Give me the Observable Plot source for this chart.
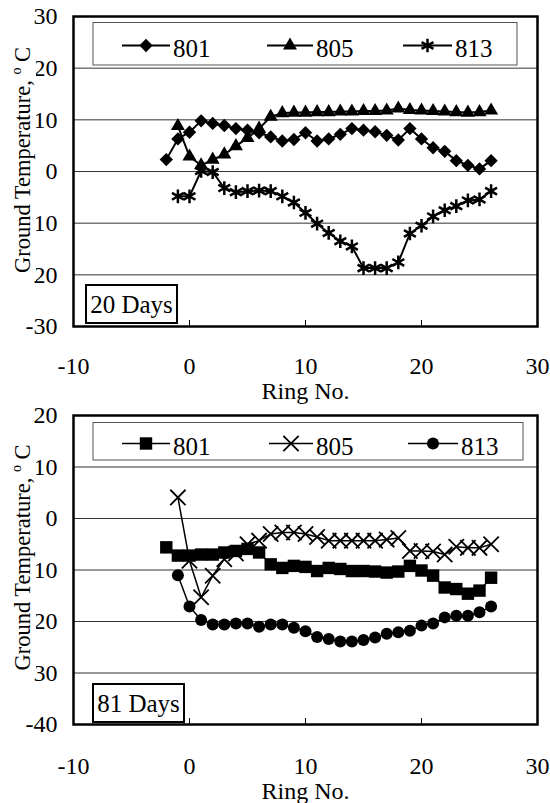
<!DOCTYPE html>
<html>
<head>
<meta charset="utf-8">
<script src="https://cdn.jsdelivr.net/npm/d3@7"></script>
<script src="https://cdn.jsdelivr.net/npm/@observablehq/plot@0.6"></script>
<style>
html, body { margin: 0; padding: 0; background: #fff; overflow: hidden; }
#chart svg { display: block; }
</style>
</head>
<body>
<div id="chart"></div>
<script>
// ---------- data ----------
const ring = [-2, -1, 0, 1, 2, 3, 4, 5, 6, 7, 8, 9, 10, 11, 12, 13, 14, 15, 16, 17, 18, 19, 20, 21, 22, 23, 24, 25, 26];
const seriesNames = ["801", "805", "813"];

// 20 days
const d20_801 = [2.3, 6.3, 7.6, 9.8, 9.3, 8.9, 8.3, 8.0, 7.5, 6.7, 5.9, 6.2, 7.5, 5.9, 6.3, 7.2, 8.3, 8.0, 7.7, 7.0, 6.1, 8.3, 6.3, 4.6, 3.9, 2.1, 1.2, 0.5, 2.1];
const d20_805 = [null, 8.8, 2.9, 1.2, 2.3, 3.3, 4.9, 6.5, 8.3, 10.6, 11.3, 11.4, 11.4, 11.5, 11.5, 11.6, 11.6, 11.7, 11.7, 11.8, 12.2, 11.9, 11.8, 11.7, 11.6, 11.5, 11.4, 11.5, 11.8];
const d20_813 = [null, -4.8, -4.8, 0.1, -0.1, -3.2, -4.0, -3.8, -3.7, -3.8, -4.8, -6.0, -8.0, -10.1, -11.9, -13.5, -14.5, -18.7, -18.7, -18.7, -17.6, -12.0, -10.5, -8.7, -7.5, -6.7, -5.6, -5.4, -3.8];

// 81 days
const d81_801 = [-5.6, -7.2, -7.2, -7.0, -7.0, -6.6, -6.3, -5.9, -6.6, -8.9, -9.6, -9.2, -9.4, -10.2, -9.6, -9.8, -10.2, -10.2, -10.3, -10.5, -10.3, -9.2, -10.1, -11.1, -13.4, -13.7, -14.6, -14.0, -11.5];
const d81_805 = [null, 4.1, -8.2, -15.3, -11.1, -7.9, -6.8, -5.0, -4.3, -3.0, -2.7, -2.7, -3.0, -3.6, -4.3, -4.3, -4.3, -4.3, -4.3, -4.1, -3.8, -6.3, -6.3, -6.4, -7.0, -5.5, -5.7, -5.7, -5.0];
const d81_813 = [null, -11.0, -17.1, -19.7, -20.6, -20.6, -20.4, -20.4, -21.0, -20.6, -20.6, -21.2, -21.9, -23.0, -23.4, -23.9, -23.9, -23.6, -23.1, -22.4, -22.1, -21.8, -20.8, -20.4, -19.2, -18.9, -18.9, -18.2, -17.1];

const xTicks = [-10, 0, 10, 20, 30];
const yTicksTop = [-30, -20, -10, 0, 10, 20, 30];
const yTicksBottom = [-40, -30, -20, -10, 0, 10, 20];
const xLabel = "Ring No.";
const yLabel = "Ground Temperature, ";
const yUnitSup = "o";
const yUnit = " C";
const dayLabels = ["20 Days", "81 Days"];

// ---------- drawing ----------
const FONT = "'Liberation Serif', 'Times New Roman', serif";
const symbolMap = {
  diamond2: d3.symbolDiamond2, triangle: d3.symbolTriangle, asterisk: d3.symbolAsterisk,
  square: d3.symbolSquare, times: d3.symbolTimes, circle: d3.symbolCircle
};
const container = document.getElementById("chart");

function makePanel(p) {
  const innerH = p.height - p.marginTop - p.marginBottom;
  const rows = vals => ring.map((x, i) => ({x, y: vals[i]})).filter(d => d.y !== null);
  const svg = Plot.plot({
    width: 550,
    height: p.height,
    marginLeft: 73, marginRight: 13, marginTop: p.marginTop, marginBottom: p.marginBottom,
    style: {fontFamily: FONT, fontSize: "24px", background: "white", overflow: "visible", color: "black"},
    x: {domain: [xTicks[0], xTicks[xTicks.length - 1]]},
    y: {domain: [p.yTicks[0], p.yTicks[p.yTicks.length - 1]]},
    marks: [
      Plot.gridY(p.yTicks, {stroke: "#333", strokeOpacity: 1, strokeWidth: 1}),
      Plot.ruleX(xTicks, {x: d => d, insetTop: innerH - 6, stroke: "black", strokeWidth: 1}),
      Plot.axisX(xTicks, {tickSize: 0, tickPadding: p.xPad, tickFormat: d => String(d), label: null, fontSize: 24}),
      Plot.axisY(p.yTicks, {tickSize: 0, tickPadding: 16, tickFormat: d => String(d), label: null, fontSize: 24}),
      ...p.series.map(s => Plot.line(rows(s.values), {x: "x", y: "y", stroke: "black", strokeWidth: p.lineWidth})),
      ...p.series.map(s => Plot.dot(rows(s.values), {
        x: "x", y: "y", symbol: s.symbol, r: s.r,
        fill: s.filled ? "black" : "none", stroke: s.filled ? "none" : "black", strokeWidth: s.sw || 1
      })),
      Plot.frame({stroke: "black", strokeWidth: 2.5}),
      Plot.text([xLabel], {text: d => d, frameAnchor: "bottom", dy: p.xLabelDy, lineAnchor: "bottom", fontSize: 24})
    ]
  });
  container.appendChild(svg);
  const s = d3.select(svg);

  // y-axis title on an opaque box
  const tg = s.append("g").attr("transform", `translate(${p.titleX},${p.titleY}) rotate(-90)`);
  const bg = tg.append("rect").attr("fill", "white");
  const t = tg.append("text").attr("text-anchor", "middle").attr("font-size", 22.5)
    .attr("font-family", FONT).attr("fill", "black");
  t.append("tspan").text(yLabel);
  t.append("tspan").attr("font-size", 14).attr("dy", -9).text(yUnitSup);
  t.append("tspan").attr("dy", 9).text(yUnit);
  const bb = t.node().getBBox();
  bg.attr("x", bb.x - 8).attr("y", bb.y - 1).attr("width", bb.width + 16).attr("height", bb.height + 2);

  // legend
  const lg = s.append("g");
  const L = p.legend;
  lg.append("rect").attr("x", L.x).attr("y", L.y).attr("width", L.w).attr("height", L.h)
    .attr("fill", "white").attr("stroke", "#555").attr("stroke-width", 1);
  p.series.forEach((ser, i) => {
    const it = L.items[i];
    lg.append("line").attr("x1", it[0]).attr("x2", it[1]).attr("y1", L.lineY).attr("y2", L.lineY)
      .attr("stroke", "black").attr("stroke-width", p.lineWidth);
    lg.append("path")
      .attr("transform", `translate(${(it[0] + it[1]) / 2},${L.lineY})`)
      .attr("d", d3.symbol(symbolMap[ser.symbol], Math.PI * ser.r * ser.r)())
      .attr("fill", ser.filled ? "black" : "none")
      .attr("stroke", ser.filled ? "none" : "black")
      .attr("stroke-width", ser.sw || 1);
    lg.append("text").attr("x", it[1] + 3).attr("y", L.textY).attr("font-size", 25)
      .attr("font-family", FONT).attr("text-anchor", "start").attr("fill", "black").text(seriesNames[i]);
  });

  // day label box
  const D = p.day;
  s.append("rect").attr("x", D.x).attr("y", D.y).attr("width", D.w).attr("height", D.h)
    .attr("fill", "white").attr("stroke", "black").attr("stroke-width", 2);
  s.append("text").attr("x", D.x + D.w / 2).attr("y", D.textY).attr("text-anchor", "middle")
    .attr("font-size", 25).attr("font-family", FONT).attr("fill", "black").text(D.label);
}

makePanel({
  height: 403, marginTop: 16, marginBottom: 77, xPad: 30, xLabelDy: 72,
  yTicks: yTicksTop, lineWidth: 2,
  titleX: 30, titleY: 160,
  series: [
    {values: d20_801, symbol: "diamond2", r: 6, filled: true},
    {values: d20_805, symbol: "triangle", r: 5.2, filled: true},
    {values: d20_813, symbol: "asterisk", r: 6.5, filled: false, sw: 2.5}
  ],
  legend: {x: 93, y: 22.5, w: 424, h: 42.5, lineY: 45.5, textY: 56.5, items: [[122, 170], [267, 313], [403, 452]]},
  day: {x: 86, y: 285, w: 91, h: 38, textY: 313, label: dayLabels[0]}
});

makePanel({
  height: 400, marginTop: 12, marginBottom: 79, xPad: 32, xLabelDy: 74,
  yTicks: yTicksBottom, lineWidth: 1.5,
  titleX: 30, titleY: 154.5,
  series: [
    {values: d81_801, symbol: "square", r: 7, filled: true},
    {values: d81_805, symbol: "times", r: 7, filled: false, sw: 1.8},
    {values: d81_813, symbol: "circle", r: 6, filled: true}
  ],
  legend: {x: 93, y: 19.5, w: 430, h: 37.5, lineY: 40.5, textY: 52, items: [[122, 170], [269, 313], [408, 458]]},
  day: {x: 93, y: 281, w: 91, h: 38, textY: 309, label: dayLabels[1]}
});
</script>
</body>
</html>
